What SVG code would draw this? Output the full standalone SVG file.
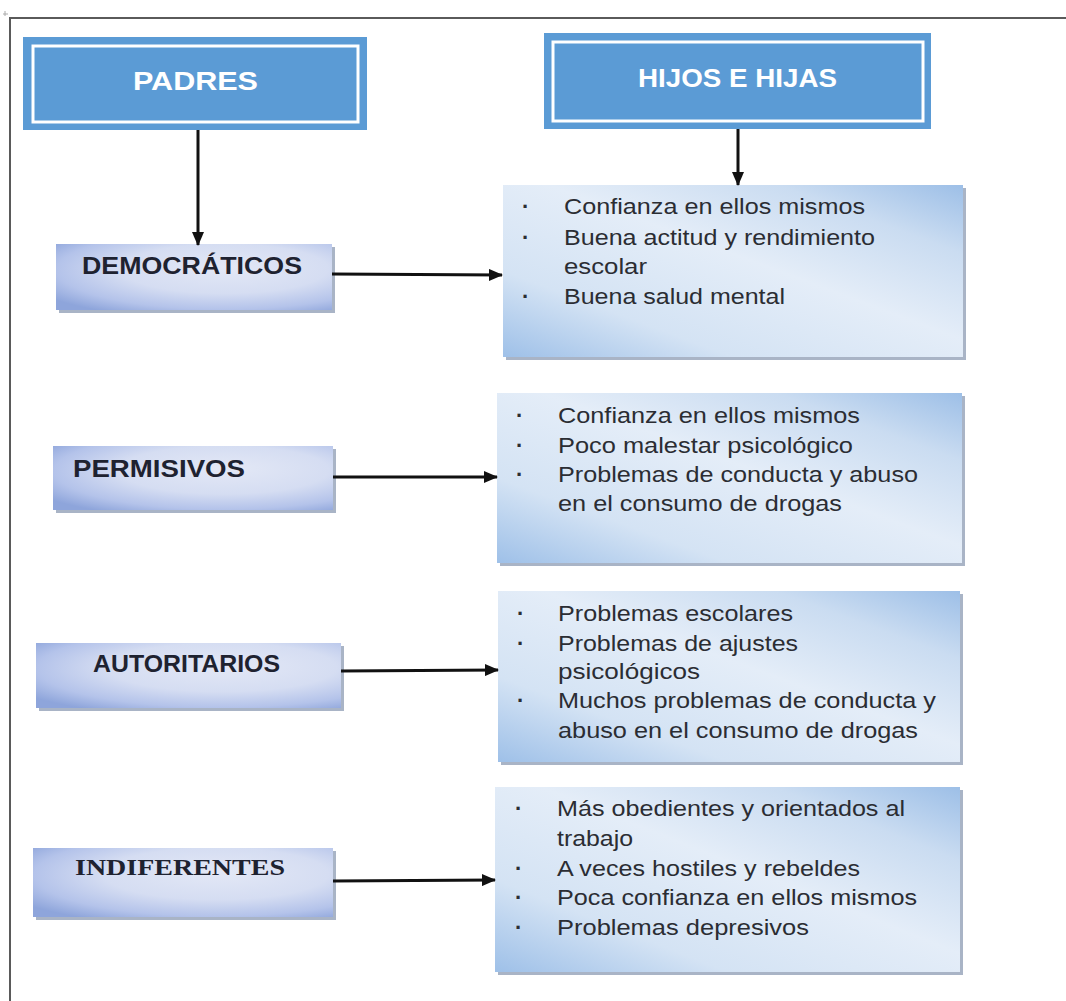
<svg xmlns="http://www.w3.org/2000/svg" width="1066" height="1001" viewBox="0 0 1066 1001">
<style>
.hdr{fill:#5b9bd5}
.hin{fill:none;stroke:#ffffff;stroke-width:3}
.htx{font-family:"Liberation Sans",Arial,sans-serif;font-weight:bold;font-size:25px;fill:#ffffff;text-anchor:start}
.lbox{fill:url(#gl)}
.rbox{fill:url(#gr)}
.shd{fill:#8c9bb3;opacity:0.75}
.ltx{font-family:"Liberation Sans",Arial,sans-serif;font-weight:bold;font-size:23px;fill:#1e2230}
.stx{font-family:"Liberation Serif","Times New Roman",serif;font-weight:bold;font-size:24px;fill:#1e2230}
.btx{font-family:"Liberation Sans",Arial,sans-serif;font-size:22px;fill:#2b2d33}
.bul{font-family:"Liberation Sans",Arial,sans-serif;font-size:22px;font-weight:bold;fill:#2b2d33}
.con{stroke:#111;stroke-width:3;fill:none;marker-end:url(#ah)}
.frame{stroke:#5a5a5a;stroke-width:2;fill:none}
</style>
<defs>
<linearGradient id="gr" x1="0" y1="1" x2="1" y2="0">
<stop offset="0" stop-color="#9ec0e8"/>
<stop offset="0.25" stop-color="#d4e3f4"/>
<stop offset="0.55" stop-color="#e4edf8"/>
<stop offset="0.8" stop-color="#cadcf1"/>
<stop offset="1" stop-color="#9dbfe7"/>
</linearGradient>
<radialGradient id="gl" cx="0.6" cy="0.4" r="0.75" fx="0.62" fy="0.35">
<stop offset="0" stop-color="#e3e8f6"/>
<stop offset="0.5" stop-color="#d5ddf2"/>
<stop offset="0.8" stop-color="#b4c3ea"/>
<stop offset="1" stop-color="#8ea5db"/>
</radialGradient>
<marker id="ah" markerUnits="userSpaceOnUse" markerWidth="14" markerHeight="12" refX="13" refY="6" orient="auto">
<path d="M0,0 L14,6 L0,12 Z" fill="#111"/>
</marker>
</defs>

<g id="frame">
<path class="frame" d="M10,18 H1066 M10,17 V1001"/>
<path d="M3,14 H8 M5,11 V16" stroke="#aaa" stroke-width="1"/>
</g>

<g id="padres">
<rect class="hdr" x="23" y="37" width="344" height="93"/>
<rect class="hin" x="33" y="46" width="325" height="76"/>
<text class="htx" x="133" y="90" textLength="125" lengthAdjust="spacingAndGlyphs">PADRES</text>
</g>

<g id="hijos">
<rect class="hdr" x="544" y="33" width="387" height="96"/>
<rect class="hin" x="553" y="42" width="370" height="79"/>
<text class="htx" x="638" y="87" textLength="199" lengthAdjust="spacingAndGlyphs">HIJOS E HIJAS</text>
</g>

<g id="democraticos">
<rect class="shd" x="59" y="247" width="276" height="66"/>
<rect class="lbox" x="56" y="244" width="276" height="66"/>
<text class="ltx" x="82" y="274" textLength="220" lengthAdjust="spacingAndGlyphs">DEMOCRÁTICOS</text>
</g>

<g id="permisivos">
<rect class="shd" x="56" y="449" width="280" height="64"/>
<rect class="lbox" x="53" y="446" width="280" height="64"/>
<text class="ltx" x="73" y="477" textLength="172" lengthAdjust="spacingAndGlyphs">PERMISIVOS</text>
</g>

<g id="autoritarios">
<rect class="shd" x="39" y="646" width="305" height="65"/>
<rect class="lbox" x="36" y="643" width="305" height="65"/>
<text class="ltx" x="93" y="672" textLength="187" lengthAdjust="spacingAndGlyphs">AUTORITARIOS</text>
</g>

<g id="indiferentes">
<rect class="shd" x="36" y="851" width="300" height="69"/>
<rect class="lbox" x="33" y="848" width="300" height="69"/>
<text class="stx" x="75" y="875" textLength="210" lengthAdjust="spacingAndGlyphs">INDIFERENTES</text>
</g>

<g id="res_democraticos">
<rect class="shd" x="506" y="188" width="460" height="172"/>
<rect class="rbox" x="503" y="185" width="460" height="172"/>
<text class="bul" x="522" y="214">·</text>
<text class="btx" x="564" y="214" textLength="301" lengthAdjust="spacingAndGlyphs">Confianza en ellos mismos</text>
<text class="bul" x="522" y="245">·</text>
<text class="btx" x="564" y="245" textLength="311" lengthAdjust="spacingAndGlyphs">Buena actitud y rendimiento</text>
<text class="btx" x="564" y="274" textLength="83" lengthAdjust="spacingAndGlyphs">escolar</text>
<text class="bul" x="522" y="304">·</text>
<text class="btx" x="564" y="304" textLength="221" lengthAdjust="spacingAndGlyphs">Buena salud mental</text>
</g>

<g id="res_permisivos">
<rect class="shd" x="500" y="396" width="465" height="170"/>
<rect class="rbox" x="497" y="393" width="465" height="170"/>
<text class="bul" x="516" y="423">·</text>
<text class="btx" x="558" y="423" textLength="302" lengthAdjust="spacingAndGlyphs">Confianza en ellos mismos</text>
<text class="bul" x="516" y="453">·</text>
<text class="btx" x="558" y="453" textLength="295" lengthAdjust="spacingAndGlyphs">Poco malestar psicológico</text>
<text class="bul" x="516" y="482">·</text>
<text class="btx" x="558" y="482" textLength="360" lengthAdjust="spacingAndGlyphs">Problemas de conducta y abuso</text>
<text class="btx" x="558" y="511" textLength="284" lengthAdjust="spacingAndGlyphs">en el consumo de drogas</text>
</g>

<g id="res_autoritarios">
<rect class="shd" x="501" y="594" width="462" height="171"/>
<rect class="rbox" x="498" y="591" width="462" height="171"/>
<text class="bul" x="517" y="621">·</text>
<text class="btx" x="558" y="621" textLength="235" lengthAdjust="spacingAndGlyphs">Problemas escolares</text>
<text class="bul" x="517" y="651">·</text>
<text class="btx" x="558" y="651" textLength="240" lengthAdjust="spacingAndGlyphs">Problemas de ajustes</text>
<text class="btx" x="558" y="679" textLength="142" lengthAdjust="spacingAndGlyphs">psicológicos</text>
<text class="bul" x="517" y="708">·</text>
<text class="btx" x="558" y="708" textLength="378" lengthAdjust="spacingAndGlyphs">Muchos problemas de conducta y</text>
<text class="btx" x="558" y="738" textLength="360" lengthAdjust="spacingAndGlyphs">abuso en el consumo de drogas</text>
</g>

<g id="res_indiferentes">
<rect class="shd" x="498" y="790" width="465" height="185"/>
<rect class="rbox" x="495" y="787" width="465" height="185"/>
<text class="bul" x="515" y="816">·</text>
<text class="btx" x="557" y="816" textLength="348" lengthAdjust="spacingAndGlyphs">Más obedientes y orientados al</text>
<text class="btx" x="557" y="846" textLength="76" lengthAdjust="spacingAndGlyphs">trabajo</text>
<text class="bul" x="515" y="876">·</text>
<text class="btx" x="557" y="876" textLength="303" lengthAdjust="spacingAndGlyphs">A veces hostiles y rebeldes</text>
<text class="bul" x="515" y="905">·</text>
<text class="btx" x="557" y="905" textLength="360" lengthAdjust="spacingAndGlyphs">Poca confianza en ellos mismos</text>
<text class="bul" x="515" y="935">·</text>
<text class="btx" x="557" y="935" textLength="252" lengthAdjust="spacingAndGlyphs">Problemas depresivos</text>
</g>

<g id="connectors">
<line class="con" x1="198" y1="130" x2="198" y2="245"/>
<line class="con" x1="738" y1="129" x2="738" y2="185"/>
<line class="con" x1="332" y1="274" x2="502" y2="275"/>
<line class="con" x1="333" y1="477" x2="497" y2="477"/>
<line class="con" x1="341" y1="671" x2="498" y2="670"/>
<line class="con" x1="333" y1="881" x2="495" y2="880"/>
</g>
</svg>
